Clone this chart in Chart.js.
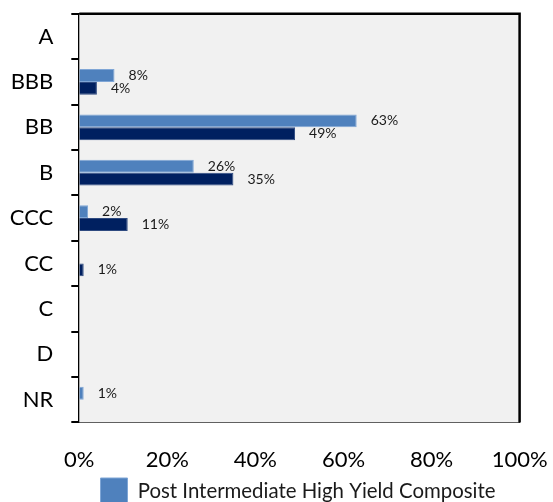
<!DOCTYPE html>
<html>
<head>
<meta charset="utf-8">
<script src="https://cdn.jsdelivr.net/npm/chart.js@4/dist/chart.umd.min.js"></script>
<style>
  html, body { margin: 0; padding: 0; background: #ffffff; overflow: hidden; }
  #wrap { position: relative; width: 553px; height: 552px; }
</style>
</head>
<body>
<div id="wrap"><canvas id="c"></canvas></div>
<script>
// ---- data ----
const categories = ['A', 'BBB', 'BB', 'B', 'CCC', 'CC', 'C', 'D', 'NR'];
const compositeLabel = 'Post Intermediate High Yield Composite';
const compositeValues = [null, 8, 63, 26, 2, null, null, null, 1];
const benchmarkLabel = 'ICE BofA US High Yield Index';
const benchmarkValues = [null, 4, 49, 35, 11, 1, null, null, null];
const xTickValues = [0, 20, 40, 60, 80, 100];

const FONT = 'Lato, "Open Sans", sans-serif';

const plotFrame = {
  id: 'plotFrame',
  beforeDatasetsDraw(chart) {
    const a = chart.chartArea, ctx = chart.ctx;
    ctx.save();
    ctx.fillStyle = '#F1F1F1';
    ctx.fillRect(a.left, a.top, a.right - a.left, a.bottom - a.top);
    ctx.restore();
  },
  afterDraw(chart) {
    const a = chart.chartArea, ctx = chart.ctx;
    ctx.save();
    ctx.strokeStyle = '#000';
    ctx.lineWidth = 2.5;
    ctx.beginPath();
    ctx.moveTo(a.left, a.top);
    ctx.lineTo(a.right, a.top);
    ctx.lineTo(a.right, a.bottom);
    ctx.stroke();
    ctx.restore();
  }
};

const valueLabels = {
  id: 'valueLabels',
  afterDatasetsDraw(chart) {
    const ctx = chart.ctx;
    ctx.save();
    ctx.font = '14px ' + FONT;
    ctx.fillStyle = '#1a1a1a';
    ctx.textAlign = 'left';
    ctx.textBaseline = 'middle';
    chart.data.datasets.forEach((ds, di) => {
      const meta = chart.getDatasetMeta(di);
      meta.data.forEach((bar, i) => {
        const v = ds.data[i];
        if (v === null || v === undefined) return;
        ctx.fillText(v + '%', bar.x + 14, bar.y);
      });
    });
    ctx.restore();
  }
};

new Chart(document.getElementById('c'), {
  type: 'bar',
  data: {
    labels: categories,
    datasets: [
      {
        label: compositeLabel,
        data: compositeValues,
        backgroundColor: '#4F81BD',
        borderColor: '#7FA6D6',
        borderWidth: 1,
        barPercentage: 1.0,
        categoryPercentage: 0.567
      },
      {
        label: benchmarkLabel,
        data: benchmarkValues,
        backgroundColor: '#002060',
        borderColor: '#2E4A80',
        borderWidth: 1,
        barPercentage: 1.0,
        categoryPercentage: 0.567
      }
    ]
  },
  options: {
    indexAxis: 'y',
    responsive: true,
    maintainAspectRatio: false,
    animation: false,
    devicePixelRatio: 1,
    layout: { padding: { left: 10, right: -33, top: 13.8, bottom: 0 } },
    plugins: {
      tooltip: { enabled: false },
      legend: {
        position: 'bottom',
        labels: {
          boxWidth: 27,
          boxHeight: 27,
          padding: 10,
          color: '#1a1a1a',
          font: { family: FONT, size: 20.4 }
        }
      }
    },
    scales: {
      x: {
        min: 0,
        max: 100,
        afterBuildTicks(scale) {
          scale.ticks = xTickValues.map(v => ({ value: v }));
        },
        afterFit(scale) {
          scale.height = 45.6;
          scale.paddingRight = 33.4;
        },
        grid: { display: false, drawTicks: false },
        border: { display: true, color: '#000', width: 2 },
        ticks: {
          padding: 24,
          color: '#000',
          font: { family: FONT, size: 22 },
          callback: v => v + '%'
        }
      },
      y: {
        offset: true,
        afterFit(scale) {
          scale.width = 69.3;
          scale.paddingTop = 0;
          scale.paddingBottom = 0;
        },
        grid: {
          display: true,
          offset: true,
          drawOnChartArea: false,
          drawTicks: true,
          tickLength: 8,
          tickWidth: 2,
          tickColor: '#000',
          color: '#000',
          lineWidth: 2
        },
        border: { display: true, color: '#000', width: 2 },
        ticks: {
          padding: 18,
          color: '#000',
          font: { family: FONT, size: 22 }
        }
      }
    }
  },
  plugins: [plotFrame, valueLabels]
});
</script>
</body>
</html>
